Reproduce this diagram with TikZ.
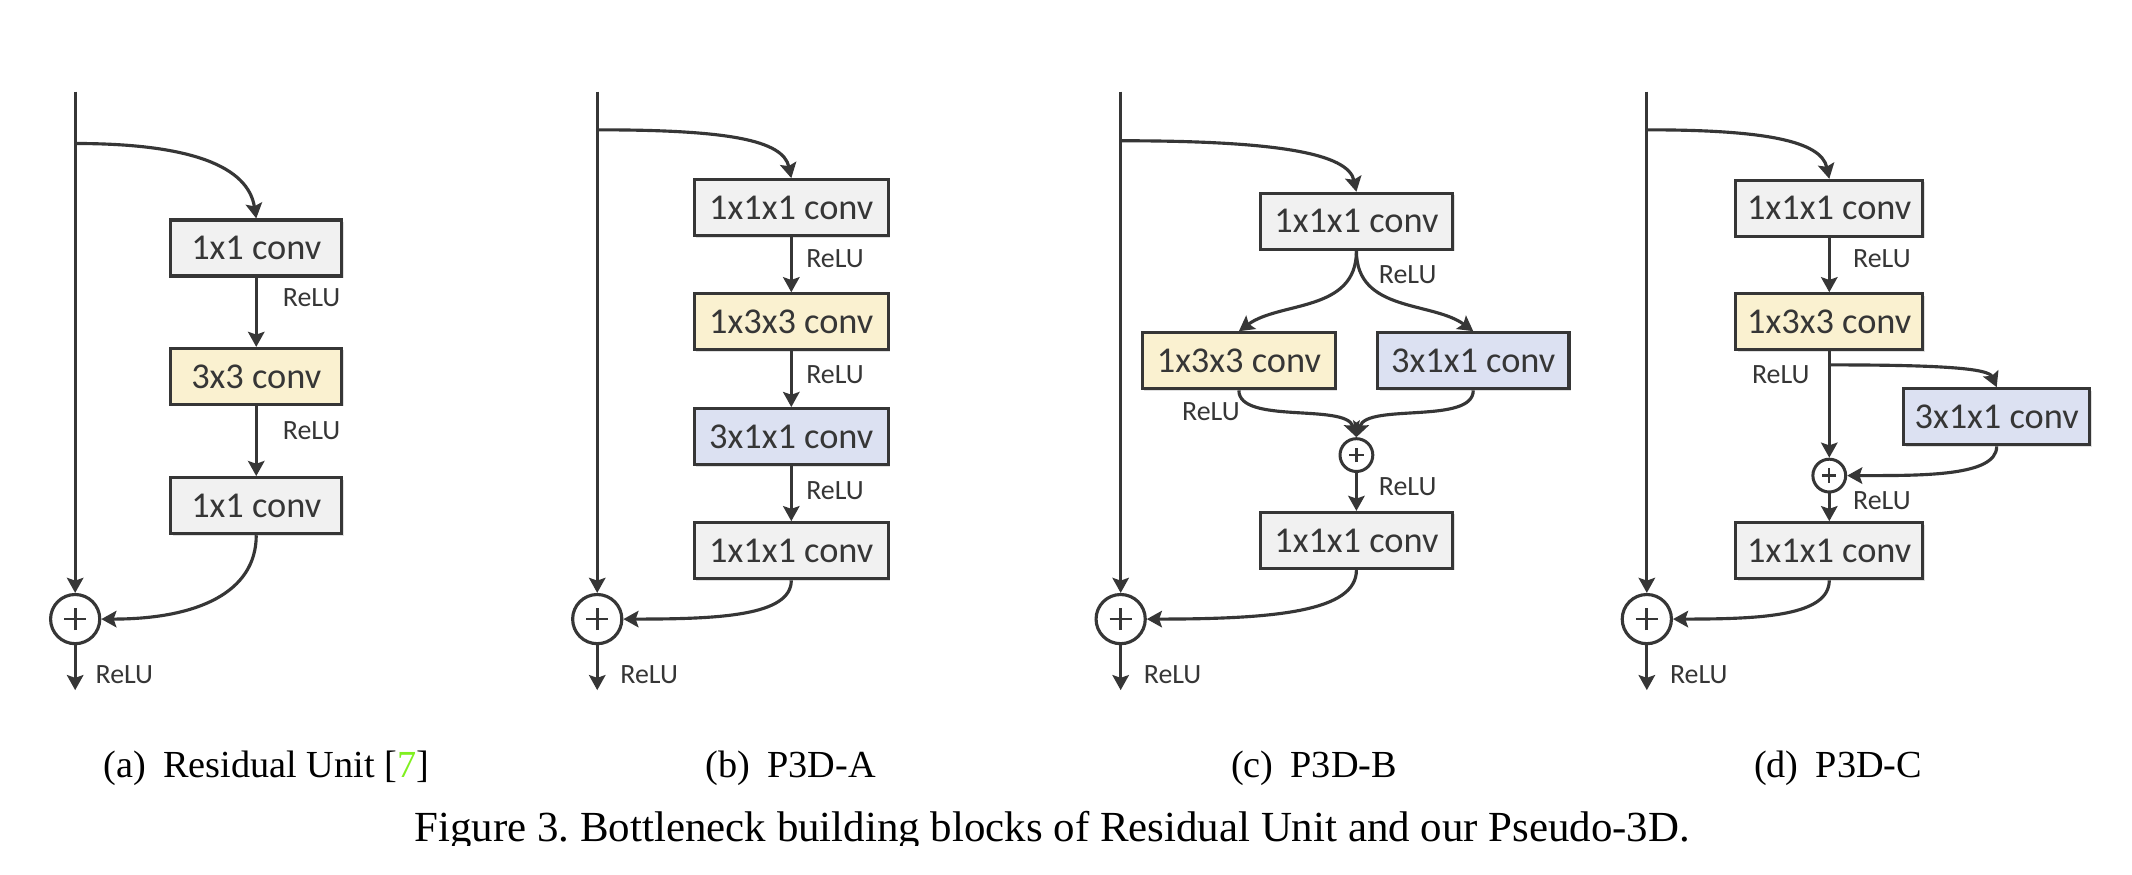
\documentclass[tikz,border=0pt]{standalone}
\usepackage{fontspec}
\setmainfont{Liberation Serif}
\newfontfamily\cbfont{Carlito}
\usetikzlibrary{arrows.meta,shadows}
\definecolor{lncol}{HTML}{363636}
\definecolor{txtcol}{HTML}{363636}
\definecolor{grayfill}{HTML}{F1F1F1}
\definecolor{yelfill}{HTML}{FAF1D0}
\definecolor{blufill}{HTML}{DCE1F2}
\definecolor{citegreen}{HTML}{80F020}
\frenchspacing
\begin{document}
\begin{tikzpicture}[x=0.5pt,y=-0.5pt,
  convbox/.style={draw=lncol, line width=1.15pt, inner sep=0pt, minimum height=20.5pt,
    font=\cbfont\fontsize{13.3}{15}\selectfont, text=txtcol,
    drop shadow={shadow xshift=0.7pt,shadow yshift=-0.7pt,opacity=0.25}},
  grayb/.style={convbox, fill=grayfill},
  yelb/.style={convbox, fill=yelfill},
  blub/.style={convbox, fill=blufill},
  relu/.style={font=\cbfont\fontsize{10.2}{12}\selectfont, text=txtcol, inner sep=0pt},
  arr/.style={draw=lncol, line width=1.15pt, -{Stealth[length=5.5pt,width=6pt,inset=1pt]}},
  bigplus/.style={circle, draw=lncol, line width=1.15pt, minimum size=18pt, inner sep=0pt, fill=white,
    path picture={\draw[lncol,line width=1pt]
      ([xshift=-4pt]path picture bounding box.center) -- ([xshift=4pt]path picture bounding box.center)
      ([yshift=-4pt]path picture bounding box.center) -- ([yshift=4pt]path picture bounding box.center);}},
  smallplus/.style={circle, draw=lncol, line width=1.1pt, minimum size=12pt, inner sep=0pt, fill=white,
    path picture={\draw[lncol,line width=0.8pt]
      ([xshift=-2.6pt]path picture bounding box.center) -- ([xshift=2.6pt]path picture bounding box.center)
      ([yshift=-2.6pt]path picture bounding box.center) -- ([yshift=2.6pt]path picture bounding box.center);}},
  subcap/.style={font=\fontsize{14}{16}\selectfont, inner sep=0pt, anchor=base},
]
\useasboundingbox[fill=white] (0,0) rectangle (1560,640);

% ---------------- (a) ----------------
\coordinate (atop) at (55,67);
\coordinate (a0) at (55,105);
\coordinate (aend) at (55,505);
\node[grayb, minimum width=62.5pt] (a1) at (187.5,181.5) {1x1 conv};
\node[yelb,  minimum width=62.5pt] (a2) at (187.5,275.5) {3x3 conv};
\node[grayb, minimum width=62.5pt] (a3) at (187.5,370) {1x1 conv};
\node[bigplus] (ap) at (55,453) {};
\draw[arr] (atop) -- (ap.north);
\draw[arr] (a0) .. controls +(85,0) and +(-6,-38) .. (a1.north);
\draw[arr] (a1.south) -- (a2.north);
\draw[arr] (a2.south) -- (a3.north);
\draw[arr] (a3.south) .. controls +(0,42) and +(70,0) .. (ap.east);
\draw[arr] (ap.south) -- (aend);
\node[relu] (ar1) at (228,218) {ReLU};
\node[relu] (ar2) at (228,315) {ReLU};
\node[relu] (ar3) at (91,494) {ReLU};

% ---------------- (b) ----------------
\coordinate (btop) at (437,67);
\coordinate (b0) at (437,95);
\coordinate (bend) at (437,505);
\node[grayb, minimum width=71pt] (b1) at (579,152) {1x1x1 conv};
\node[yelb,  minimum width=71pt] (b2) at (579,235.5) {1x3x3 conv};
\node[blub,  minimum width=71pt] (b3) at (579,319.5) {3x1x1 conv};
\node[grayb, minimum width=71pt] (b4) at (579,403) {1x1x1 conv};
\node[bigplus] (bp) at (437,453) {};
\draw[arr] (btop) -- (bp.north);
\draw[arr] (b0) .. controls +(95,0) and +(-6,-28) .. (b1.north);
\draw[arr] (b1.south) -- (b2.north);
\draw[arr] (b2.south) -- (b3.north);
\draw[arr] (b3.south) -- (b4.north);
\draw[arr] (b4.south) .. controls +(0,26) and +(70,0) .. (bp.east);
\draw[arr] (bp.south) -- (bend);
\node[relu] (br1) at (611,189) {ReLU};
\node[relu] (br2) at (611,274) {ReLU};
\node[relu] (br3) at (611,359) {ReLU};
\node[relu] (br4) at (475,494) {ReLU};

% ---------------- (c) ----------------
\coordinate (ctop) at (820,67);
\coordinate (c0) at (820,103);
\coordinate (cend) at (820,505);
\node[grayb, minimum width=70.5pt] (c1) at (992.5,162) {1x1x1 conv};
\node[yelb,  minimum width=70.5pt] (c2) at (906.5,264) {1x3x3 conv};
\node[blub,  minimum width=70pt]   (c3) at (1078,264) {3x1x1 conv};
\node[smallplus] (csp) at (992.5,333) {};
\node[grayb, minimum width=70.5pt] (c4) at (992.5,395.5) {1x1x1 conv};
\node[bigplus] (cp) at (820,453) {};
\draw[arr] (ctop) -- (cp.north);
\draw[arr] (c0) .. controls +(115,0) and +(-6,-28) .. (c1.north);
\draw[arr] (c1.south) .. controls +(0,45) and +(30,-22) .. (c2.north);
\draw[arr] (c1.south) .. controls +(0,45) and +(-30,-22) .. (c3.north);
\draw[arr] (c2.south) .. controls +(0,25) and +(-8,-25) .. (csp.north);
\draw[arr] (c3.south) .. controls +(0,25) and +(8,-25) .. (csp.north);
\draw[arr] (csp.south) -- (c4.north);
\draw[arr] (c4.south) .. controls +(0,30) and +(95,0) .. (cp.east);
\draw[arr] (cp.south) -- (cend);
\node[relu] (cr1) at (1030,201) {ReLU};
\node[relu] (cr2) at (886,301) {ReLU};
\node[relu] (cr3) at (1030,356) {ReLU};
\node[relu] (cr4) at (858,494) {ReLU};

% ---------------- (d) ----------------
\coordinate (dtop) at (1205,67);
\coordinate (d0) at (1205,95);
\coordinate (dend) at (1205,505);
\node[grayb, minimum width=68.5pt] (d1) at (1338.5,152.5) {1x1x1 conv};
\node[yelb,  minimum width=68.5pt] (d2) at (1338.5,235.5) {1x3x3 conv};
\coordinate (d5) at (1338.5,267);
\node[blub,  minimum width=68pt]   (d3) at (1461,305) {3x1x1 conv};
\node[smallplus] (dsp) at (1338.5,348) {};
\node[grayb, minimum width=68.5pt] (d4) at (1338.5,403) {1x1x1 conv};
\node[bigplus] (dp) at (1205,453) {};
\draw[arr] (dtop) -- (dp.north);
\draw[arr] (d0) .. controls +(85,0) and +(-6,-28) .. (d1.north);
\draw[arr] (d1.south) -- (d2.north);
\draw[arr] (d2.south) -- (dsp.north);
\draw[arr] (d5) .. controls +(80,0) and +(-6,-14) .. (d3.north);
\draw[arr] (d3.south) .. controls +(0,22) and +(55,0) .. (dsp.east);
\draw[arr] (dsp.south) -- (d4.north);
\draw[arr] (d4.south) .. controls +(0,26) and +(65,0) .. (dp.east);
\draw[arr] (dp.south) -- (dend);
\node[relu] (dr1) at (1377,189) {ReLU};
\node[relu] (dr2) at (1303,274) {ReLU};
\node[relu] (dr3) at (1377,366) {ReLU};
\node[relu] (dr4) at (1243,494) {ReLU};

% ---------------- captions ----------------
\node[subcap] (capa) at (195,569) {(a)\hspace{0.45em}Residual Unit [\textcolor{citegreen}{7}]};
\node[subcap] (capb) at (578.5,569) {(b)\hspace{0.45em}P3D-A};
\node[subcap] (capc) at (961.5,569) {(c)\hspace{0.45em}P3D-B};
\node[subcap] (capd) at (1345,569) {(d)\hspace{0.45em}P3D-C};
\begin{scope}
\clip (0,0) rectangle (1560,618.3);
\node[subcap, font=\fontsize{15.7}{18}\selectfont] (figcap) at (770,616) {Figure 3. Bottleneck building blocks of Residual Unit and our Pseudo-3D.};
\end{scope}
\end{tikzpicture}
\end{document}
